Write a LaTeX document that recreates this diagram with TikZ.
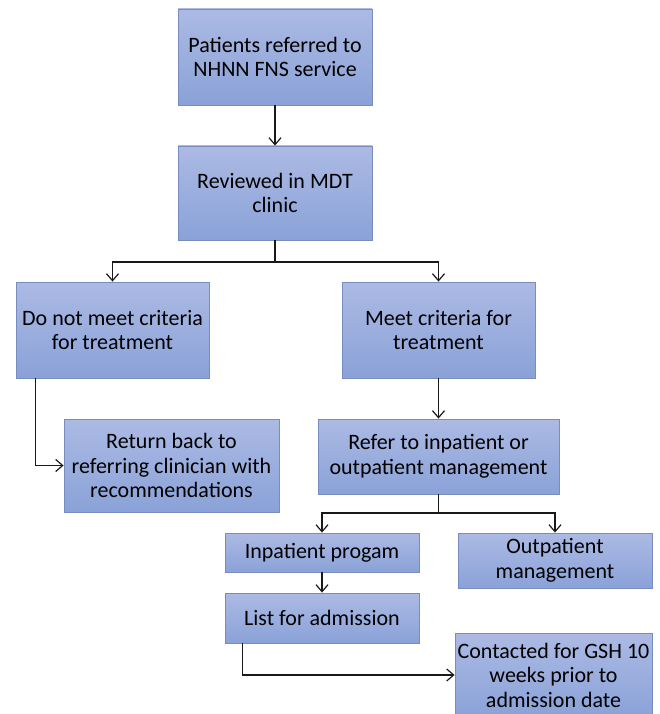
\documentclass[tikz,border=0pt]{standalone}
\usepackage{fontspec}
\setmainfont{Carlito}
\usetikzlibrary{arrows.meta}
\definecolor{boxtop}{RGB}{172,186,228}
\definecolor{boxbot}{RGB}{138,162,216}
\definecolor{boxline}{RGB}{120,140,190}
\definecolor{arrcol}{RGB}{25,25,25}
\tikzset{
  box/.style={draw=boxline, line width=0.8pt, top color=boxtop, bottom color=boxbot,
    align=center, inner sep=2pt, font=\fontsize{22}{24.5}\selectfont},
  conn/.style={draw=arrcol, line width=1.4pt, -{Straight Barb[length=7pt,width=12pt,line width=1.2pt]}}
}
\begin{document}
\begin{tikzpicture}[x=1pt,y=-1pt]
\useasboundingbox (0,0) rectangle (660,714);
\node[box, minimum width=194pt, minimum height=96pt] (b1) at (275,57) {Patients referred to\\NHNN FNS service};
\node[box, minimum width=194pt, minimum height=94pt] (b2) at (275,193) {Reviewed in MDT\\clinic};
\node[box, minimum width=193pt, minimum height=96pt] (b3) at (112.5,330) {Do not meet criteria\\for treatment};
\node[box, minimum width=193pt, minimum height=96pt] (b4) at (438.5,330) {Meet criteria for\\treatment};
\node[box, minimum width=215pt, minimum height=93pt] (b5) at (171.5,465.5) {Return back to\\referring clinician with\\recommendations};
\node[box, minimum width=241pt, minimum height=75pt] (b6) at (438.5,456.5) {Refer to inpatient or\\outpatient management};
\node[box, minimum width=194pt, minimum height=39pt] (b7) at (322,552.5) {Inpatient progam};
\node[box, minimum width=194pt, minimum height=55pt] (b8) at (555,560.5) {Outpatient\\management};
\node[box, minimum width=194pt, minimum height=50pt] (b9) at (322,618) {List for admission};
\node[box, minimum width=197pt, minimum height=84pt] (b10) at (553.5,675) {Contacted for GSH 10\\weeks prior to\\admission date};
\coordinate (s2) at (275,262);
\coordinate (s6) at (438.5,513);
\draw[conn] (b1.south) -- (b2.north);
\draw[conn] (b2.south) -- (s2) -| (b3.north);
\draw[conn] (b2.south) -- (s2) -| (b4.north);
\draw[conn] ([xshift=20pt]b3.south west) |- (b5.west);
\draw[conn] (b4.south) -- (b6.north);
\draw[conn] (b6.south) -- (s6) -| (b7.north);
\draw[conn] (b6.south) -- (s6) -| (b8.north);
\draw[conn] (b7.south) -- (b9.north);
\draw[conn] ([xshift=18pt]b9.south west) |- (b10.west);
\end{tikzpicture}
\end{document}
